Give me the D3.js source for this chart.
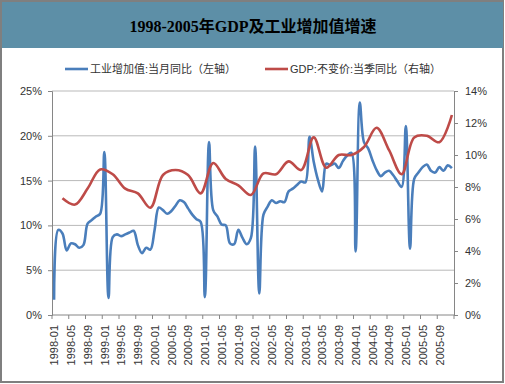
<!DOCTYPE html>
<html><head><meta charset="utf-8">
<script src="https://cdn.jsdelivr.net/npm/d3@7"></script>
<style>
body{margin:0;background:#fff;}
svg{display:block;}
text{font-family:"Liberation Sans",Arial,"Noto Sans CJK SC",sans-serif;}
</style></head>
<body>
<svg id="chart" width="505" height="384"></svg>
<script>
// ---- data ----
const title = "1998-2005年GDP及工业增加值增速";
const seriesNames = ["工业增加值:当月同比（左轴）", "GDP:不变价:当季同比（右轴）"];
const years = [1998,1999,2000,2001,2002,2003,2004,2005];
const months = [];
years.forEach(y => { for (let m = 1; m <= 12; m++) months.push(y + "-" + String(m).padStart(2, "0")); });
// industrial value added, monthly YoY (%), left axis
const industry = [
  1.7, 9.5, 9.1, 7.2, 8.0, 7.9, 7.5, 7.8, 10.2, 10.6, 11.0, 11.3,
  18.2, 1.9, 8.7, 9.0, 8.8, 9.0, 9.2, 9.4, 7.8, 6.9, 7.5, 7.3,
  9.5, 12.0, 11.7, 11.3, 11.6, 12.2, 12.8, 12.6, 11.9, 11.2, 10.7, 10.4,
  2.0, 19.3, 11.7, 11.0, 10.1, 10.0, 8.0, 7.9, 9.5, 8.6, 7.9, 8.6,
  18.8, 2.4, 11.2, 12.1, 12.8, 12.5, 12.7, 12.6, 13.8, 14.1, 14.5, 14.9,
  14.8, 19.9, 17.1, 15.1, 13.8, 16.9, 16.7, 16.9, 16.4, 17.2, 17.8, 18.1,
  7.1, 23.7, 19.3, 18.6, 17.3, 16.2, 15.5, 15.9, 16.1, 15.6, 14.9, 14.3,
  21.1, 7.4, 15.2, 15.9, 16.5, 16.8, 16.1, 15.9, 16.5, 16.1, 16.7, 16.4
];
// GDP constant price, quarterly YoY (%), right axis — at quarter-end months
const gdpQuarters = [];
years.forEach(y => ["03","06","09","12"].forEach(m => gdpQuarters.push(y + "-" + m)));
const gdp = [
  7.3, 6.9, 7.9, 9.1,
  8.8, 7.9, 7.6, 6.7,
  8.75, 9.06, 8.75, 7.6,
  9.5, 8.5, 8.1, 7.5,
  8.85, 8.8, 9.6, 9.06,
  11.1, 9.2, 10.0, 10.0,
  10.5, 11.7, 10.3, 8.8,
  11.1, 11.2, 10.8, 12.5
];
const leftTicks = [0, 5, 10, 15, 20, 25];
const rightTicks = [0, 2, 4, 6, 8, 10, 12, 14];
const xTickLabels = months.filter((d, i) => i % 4 === 0);

// ---- layout ----
const svg = d3.select("#chart");
const W = 505, H = 384;
const plot = {left: 52, right: 454, top: 91, bottom: 315};
const blue = "#4a7ebb", red = "#be4b48";

// frame
svg.append("rect").attr("x", 1).attr("y", 1).attr("width", 502).attr("height", 381)
  .attr("fill", "#fff").attr("stroke", "#7f7f7f").attr("stroke-width", 2);
// title bar
svg.append("rect").attr("x", 2).attr("y", 2).attr("width", 501).attr("height", 46)
  .attr("fill", "#5d8fa7");
svg.append("text").attr("x", 253).attr("y", 32).attr("text-anchor", "middle")
  .style("font-family", "'Liberation Serif','DejaVu Serif','Noto Sans CJK SC',serif")
  .style("font-weight", "bold").style("font-size", "16px").attr("fill", "#000")
  .text(title);

// scales
const xPoint = d3.scalePoint().domain(months).range([plot.left, plot.right]).padding(0.5);
const xBand = d3.scaleBand().domain(months).range([plot.left, plot.right]);
const yL = d3.scaleLinear().domain([0, 25]).range([plot.bottom, plot.top]);
const yR = d3.scaleLinear().domain([0, 14]).range([plot.bottom, plot.top]);

// gridlines
svg.append("g").selectAll("line").data(leftTicks.filter(d => d > 0)).join("line")
  .attr("x1", plot.left).attr("x2", plot.right)
  .attr("y1", d => yL(d)).attr("y2", d => yL(d))
  .attr("stroke", "#b9b9b9").attr("stroke-width", 1);

// left axis
const gL = svg.append("g").attr("transform", `translate(${plot.left},0)`)
  .call(d3.axisLeft(yL).tickValues(leftTicks).tickFormat(d => d + "%").tickSize(4).tickPadding(6));
// right axis
const gR = svg.append("g").attr("transform", `translate(${plot.right},0)`)
  .call(d3.axisRight(yR).tickValues(rightTicks).tickFormat(d => d + "%").tickSize(4).tickPadding(7));
// x axis labels
const gX = svg.append("g").attr("transform", `translate(0,${plot.bottom})`)
  .call(d3.axisBottom(xPoint).tickValues(xTickLabels).tickSize(0));
gX.selectAll("text").attr("transform", "rotate(-90)").attr("text-anchor", "end")
  .attr("x", -10).attr("y", 0).attr("dy", "0.35em");
// x tick marks at category boundaries
const boundaries = xTickLabels.map(m => xBand(m)).concat([plot.right]);
svg.append("g").selectAll("line").data(boundaries).join("line")
  .attr("x1", d => d).attr("x2", d => d).attr("y1", plot.bottom).attr("y2", plot.bottom + 4)
  .attr("stroke", "#868686");

[gL, gR, gX].forEach(g => {
  g.selectAll("path.domain").attr("stroke", "#868686");
  g.selectAll(".tick line").attr("stroke", "#868686");
  g.selectAll("text").style("font-size", "11px").attr("fill", "#333")
    .style("font-family", "'Liberation Sans',Arial,sans-serif");
});
gX.select("path.domain").attr("d", `M${plot.left},0H${plot.right}`);

// lines
const lineL = d3.line().x((d, i) => xPoint(months[i])).y(d => yL(d)).curve(d3.curveCatmullRom);
svg.append("path").datum(industry).attr("d", lineL)
  .attr("fill", "none").attr("stroke", blue).attr("stroke-width", 2.6).attr("stroke-linejoin", "round");
const lineR = d3.line().x((d, i) => xPoint(gdpQuarters[i])).y(d => yR(d)).curve(d3.curveCatmullRom);
svg.append("path").datum(gdp).attr("d", lineR)
  .attr("fill", "none").attr("stroke", red).attr("stroke-width", 2.6).attr("stroke-linejoin", "round");

// legend
const legend = [
  {name: seriesNames[0], color: blue, x: 65},
  {name: seriesNames[1], color: red, x: 265}
];
const lg = svg.append("g").selectAll("g").data(legend).join("g")
  .attr("transform", d => `translate(${d.x},69)`);
lg.append("line").attr("x1", 0).attr("x2", 23).attr("y1", 0).attr("y2", 0)
  .attr("stroke", d => d.color).attr("stroke-width", 2.6);
lg.append("text").attr("x", 25).attr("y", 0).attr("dy", "0.36em")
  .style("font-size", "11px").attr("fill", "#333").text(d => d.name);
</script>
</body></html>
